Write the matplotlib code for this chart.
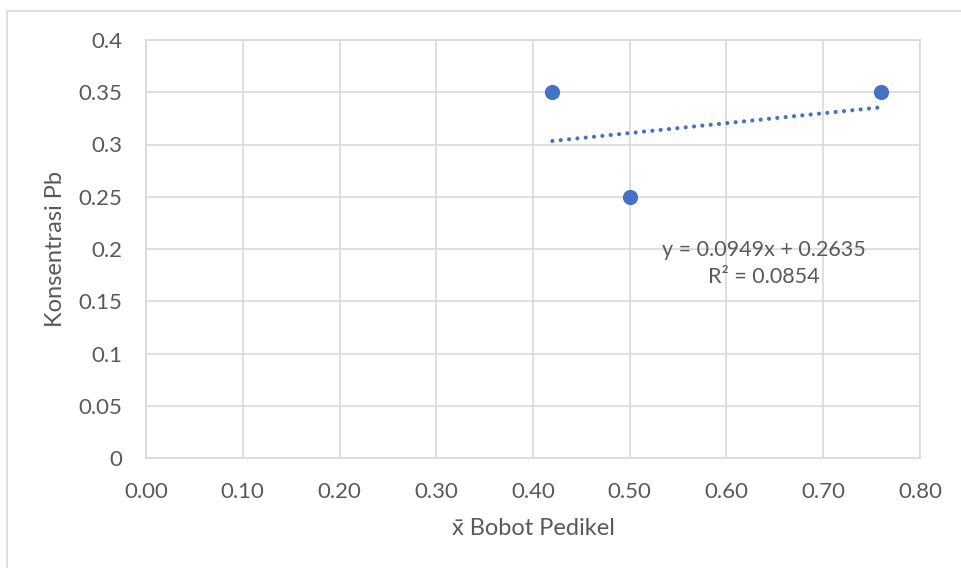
import numpy as np
import matplotlib.pyplot as plt
from matplotlib.patches import Rectangle

# Data
bobot = [0.42, 0.50, 0.76]
pb = [0.35, 0.25, 0.35]
slope = 0.0949
intercept = 0.2635
r2 = 0.0854

x_ticks = [0.0, 0.1, 0.2, 0.3, 0.4, 0.5, 0.6, 0.7, 0.8]
y_ticks = [0, 0.05, 0.1, 0.15, 0.2, 0.25, 0.3, 0.35, 0.4]
y_labels = ["0", "0.05", "0.1", "0.15", "0.2", "0.25", "0.3", "0.35", "0.4"]

text_color = "#595959"
grid_color = "#d9d9d9"
blue = "#4472c4"

plt.rcParams['font.family'] = ['Lato', 'DejaVu Sans']

fig = plt.figure(figsize=(9.62, 5.68), dpi=100)
fig.patches.append(Rectangle((7 / 962, -0.1), 1.1, 1 - 11 / 568 + 0.1,
                             transform=fig.transFigure, fill=False,
                             edgecolor="#d9d9d9", linewidth=1.2))

ax = fig.add_axes([146 / 962, 1 - 458 / 568, (920 - 146) / 962, (458 - 40) / 568])

ax.set_xlim(0, 0.8)
ax.set_ylim(0, 0.4)
ax.set_xticks(x_ticks)
ax.set_xticklabels([f"{t:.2f}" for t in x_ticks])
ax.set_yticks(y_ticks)
ax.set_yticklabels(y_labels)
ax.grid(True, color=grid_color, linewidth=1.2)
ax.set_axisbelow(True)
for s in ax.spines.values():
    s.set_color(grid_color)
    s.set_linewidth(1.2)
ax.tick_params(length=0, labelsize=16, colors=text_color)
ax.tick_params(axis="x", pad=17)
ax.tick_params(axis="y", pad=17)

# trendline over the range of the data
xt = np.array([min(bobot), max(bobot)])
ax.plot(xt, slope * xt + intercept, color=blue, linestyle=(0, (0.01, 2.0)),
        dash_capstyle="round", linewidth=3, zorder=3)
ax.scatter(bobot, pb, s=120, color=blue, zorder=4, linewidths=0)

ax.text(0.639, 0.186, f"y = {slope}x + {intercept}\nR² = {r2}", ha="center",
        va="center", fontsize=15.5, color=text_color, linespacing=1.45)

ax.set_xlabel("x̄ Bobot Pedikel", fontsize=17, color=text_color, labelpad=12)
ax.set_ylabel("Konsentrasi Pb", fontsize=17, color=text_color, labelpad=9)

fig.savefig("out.png", dpi=100)
